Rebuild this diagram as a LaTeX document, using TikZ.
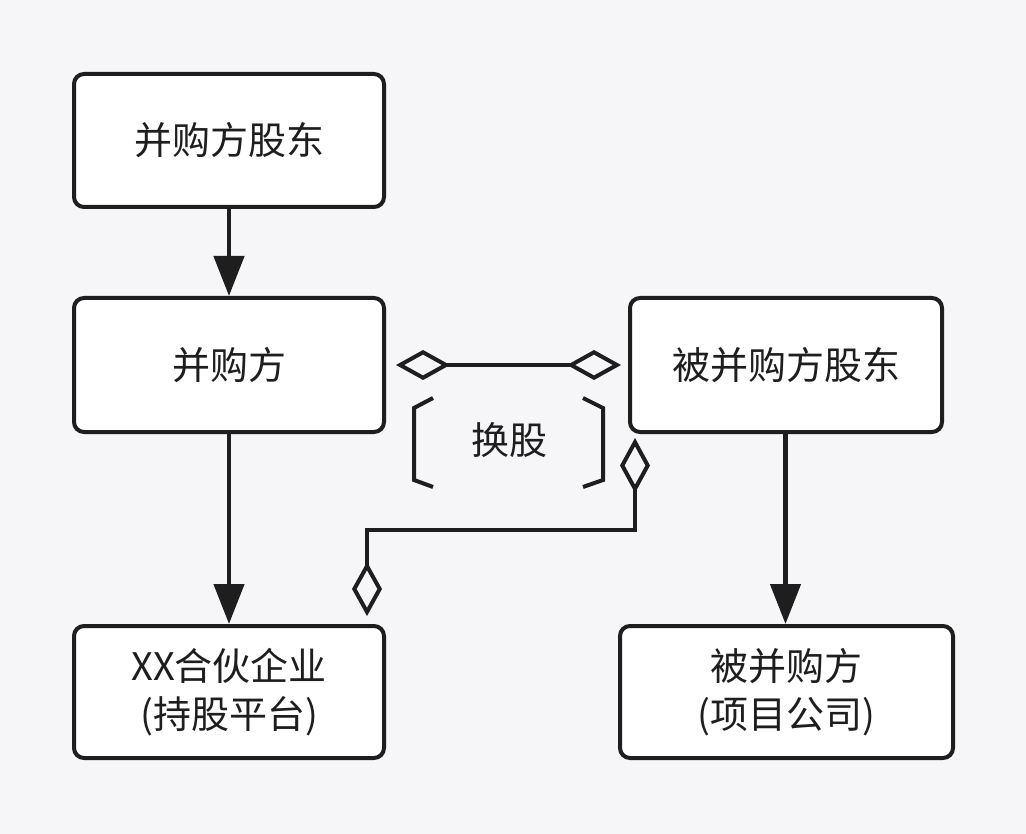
\documentclass[tikz,border=0pt]{standalone}
\usepackage{fontspec}
\setmainfont{Noto Sans CJK SC}
\usetikzlibrary{arrows.meta}
\definecolor{bg}{HTML}{F6F6F8}
\definecolor{ink}{HTML}{1E1E1E}
\begin{document}
\begin{tikzpicture}[x=1pt,y=-1pt,
  box/.style={draw=ink, fill=white, line width=4pt, rounded corners=10pt,
    inner sep=0pt, align=center, text=ink,
    font=\fontsize{38}{48}\selectfont},
  flow/.style={draw=ink, line width=4.5pt, -{Triangle[length=40pt,width=30pt]}},
  assoc/.style={draw=ink, line width=4pt, line join=miter},
  brk/.style={draw=ink, line width=4pt, line join=miter}]
\fill[bg] (0,0) rectangle (1026,834);
\useasboundingbox (0,0) rectangle (1026,834);

\node[box, minimum width=310pt, minimum height=133pt] (acqsh) at (229,140.5) {并购方股东};
\node[box, minimum width=310pt, minimum height=134pt] (acq) at (229,365) {并购方};
\node[box, minimum width=312pt, minimum height=134pt] (tgtsh) at (786,365) {被并购方股东};
\node[box, minimum width=310pt, minimum height=132pt] (plat) at (229,692) {XX合伙企业\\(持股平台)};
\node[box, minimum width=333pt, minimum height=132pt] (tgt) at (786.5,692) {被并购方\\(项目公司)};

\draw[flow] (acqsh.south) -- (acq.north);
\draw[flow] (acq.south) -- (plat.north);
\draw[flow] ([xshift=-0.5pt]tgtsh.south) -- ([xshift=-0.5pt]tgt.north -| tgtsh.south);

\draw[assoc, {Diamond[open,length=54pt,width=30pt]}-{Diamond[open,length=54pt,width=30pt]}]
  ([xshift=10pt]acq.east) -- ([xshift=-7pt]tgtsh.west);
\coordinate (c1) at ([xshift=7pt]tgtsh.south west);
\coordinate (c2) at ([xshift=-19pt]plat.north east);
\draw[assoc, {Diamond[open,length=55pt,width=30pt]}-{Diamond[open,length=54pt,width=30pt]}]
  ([yshift=-4pt]c1) -- ([yshift=-96pt]c1) -| ([yshift=8pt]c2);

\node[text=ink, font=\fontsize{38}{48}\selectfont, inner sep=0pt] (swap) at (509,440) {换股};
\draw[brk] ([shift={(-76pt,-47pt)}]swap.center) -- ([shift={(-95pt,-40pt)}]swap.center)
  -- ([shift={(-95pt,32pt)}]swap.center) -- ([shift={(-76pt,42pt)}]swap.center);
\draw[brk] ([shift={(74pt,-47pt)}]swap.center) -- ([shift={(94pt,-40pt)}]swap.center)
  -- ([shift={(94pt,32pt)}]swap.center) -- ([shift={(74pt,42pt)}]swap.center);
\end{tikzpicture}
\end{document}
